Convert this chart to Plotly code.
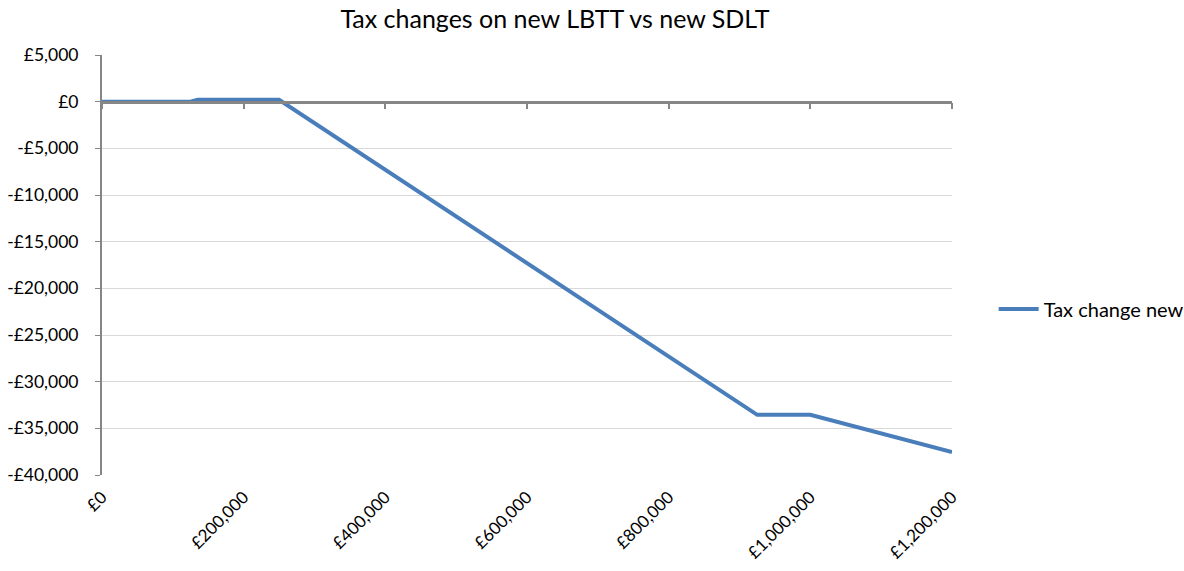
import plotly.graph_objects as go

# Data
price = [0, 125000, 135000, 250000, 925000, 1000000, 1200000]
tax_change_new = [0, 0, 200, 200, -33550, -33550, -37550]

x_tick_vals = [0, 200000, 400000, 600000, 800000, 1000000, 1200000]
x_tick_text = ["£0", "£200,000", "£400,000", "£600,000", "£800,000", "£1,000,000", "£1,200,000"]
y_tick_vals = [5000, 0, -5000, -10000, -15000, -20000, -25000, -30000, -35000, -40000]
y_tick_text = ["£5,000", "£0", "-£5,000", "-£10,000", "-£15,000", "-£20,000",
               "-£25,000", "-£30,000", "-£35,000", "-£40,000"]

FONT = "Lato"
AXIS_GREY = "#868686"
GRID_GREY = "#d9d9d9"
BLUE = "#4a7ebb"

y_min, y_max = -40000, 5000

W, H = 1184, 571

fig = go.Figure()
fig.add_trace(go.Scatter(
    x=price, y=tax_change_new, mode="lines", name="Tax change new",
    line=dict(color=BLUE, width=4), xaxis="x", yaxis="y",
))
# invisible copy to carry the axis drawn at y = 0
fig.add_trace(go.Scatter(
    x=price, y=tax_change_new, mode="lines", showlegend=False, hoverinfo="skip",
    line=dict(color="rgba(0,0,0,0)", width=0), xaxis="x2", yaxis="y",
))

zero_pos = (0 - y_min) / (y_max - y_min)

fig.update_layout(
    width=W, height=H,
    paper_bgcolor="white", plot_bgcolor="white",
    margin=dict(l=102, r=232, t=55, b=96, autoexpand=False),
    font=dict(family=FONT, size=17.5, color="#000000"),
    title=dict(text="Tax changes on new LBTT vs new SDLT", x=555 / W, xref="container",
               xanchor="center", y=1 - 19.5 / H, yref="container", yanchor="middle",
               font=dict(family=FONT, size=25, color="#000000")),
    showlegend=True,
    legend=dict(x=1.049, xanchor="left", y=(475 - 309) / 420, yanchor="middle",
                itemwidth=40,
                font=dict(family=FONT, size=20), bgcolor="rgba(0,0,0,0)"),
    xaxis=dict(range=[0, 1200000], tickvals=x_tick_vals, ticktext=x_tick_text,
               tickangle=-45, showgrid=False, zeroline=False, showline=False,
               ticks="", ticklabelstandoff=8, automargin=False,
               tickfont=dict(family=FONT, size=17)),
    xaxis2=dict(range=[0, 1200000], overlaying="x", anchor="free", position=zero_pos,
                side="bottom", tickvals=x_tick_vals, showticklabels=False,
                ticks="outside", ticklen=6, tickwidth=2, tickcolor=AXIS_GREY,
                showline=True, linecolor=AXIS_GREY, linewidth=2.5,
                showgrid=False, zeroline=False, automargin=False),
    yaxis=dict(range=[y_min, y_max], tickvals=y_tick_vals, ticktext=y_tick_text,
               showgrid=True, gridcolor=GRID_GREY, gridwidth=1,
               zeroline=False, showline=True, linecolor=AXIS_GREY, linewidth=2,
               ticks="outside", ticklen=5, tickwidth=1, tickcolor=AXIS_GREY,
               ticklabelstandoff=13, automargin=False,
               tickfont=dict(family=FONT, size=17.5)),
)

fig.write_html("out.html", config={"displayModeBar": False},
               post_script="document.body.style.margin='0';")
